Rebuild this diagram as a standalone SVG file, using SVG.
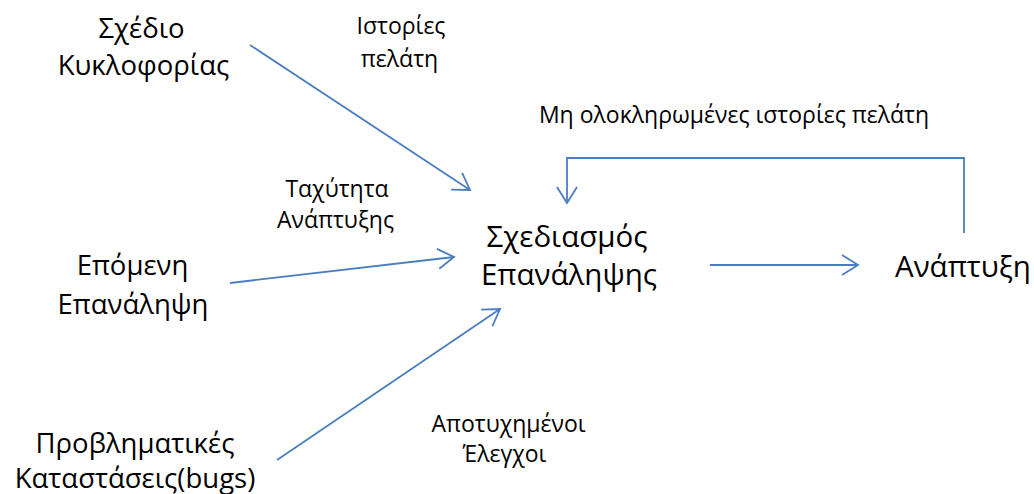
<svg xmlns="http://www.w3.org/2000/svg" width="1034" height="494" viewBox="0 0 1034 494">
<style>
text{font-family:"Open Sans","Noto Sans","DejaVu Sans",sans-serif;fill:#000;text-anchor:middle}
.n{font-size:27.5px}
.c{font-size:29.5px}
.l{font-size:23px}
.e{fill:none;stroke:#4A7EBF;stroke-width:1.8}
</style>
<defs>
<marker id="ah" markerUnits="userSpaceOnUse" markerWidth="30" markerHeight="30" viewBox="-20 -15 25 30" refX="0" refY="0" orient="auto">
<path d="M-16,-10 L0,0 L-16,10" fill="none" stroke="#4A7EBF" stroke-width="1.8"/>
</marker>
</defs>
<g id="connectors">
<line class="e" x1="250" y1="45" x2="470" y2="190" marker-end="url(#ah)"/>
<line class="e" x1="230" y1="283" x2="454" y2="257" marker-end="url(#ah)"/>
<line class="e" x1="277" y1="460" x2="500" y2="309" marker-end="url(#ah)"/>
<line class="e" x1="710" y1="265" x2="858" y2="265" marker-end="url(#ah)"/>
<polyline class="e" points="964,233 964,158 567,158 567,203" marker-end="url(#ah)"/>
</g>
<g id="labels">
<text class="l" x="401" y="34">Ιστορίες</text>
<text class="l" x="399.5" y="67">πελάτη</text>
<text class="l" x="337" y="197">Ταχύτητα</text>
<text class="l" x="335.5" y="228">Ανάπτυξης</text>
<text class="l" x="508.5" y="432">Αποτυχημένοι</text>
<text class="l" x="504.5" y="462">Έλεγχοι</text>
<text class="l" x="734" y="123">Μη ολοκληρωμένες ιστορίες πελάτη</text>
</g>
<g id="node-sxedio">
<text class="n" x="141.5" y="38">Σχέδιο</text>
<text class="n" x="143.5" y="75">Κυκλοφορίας</text>
</g>
<g id="node-epomeni">
<text class="n" x="132.5" y="275">Επόμενη</text>
<text class="n" x="133" y="314">Επανάληψη</text>
</g>
<g id="node-provlimatikes">
<text class="n" x="135" y="453">Προβληματικές</text>
<text class="n" x="135" y="488">Καταστάσεις(bugs)</text>
</g>
<g id="node-sxediasmos">
<text class="c" x="567" y="247">Σχεδιασμός</text>
<text class="c" x="569" y="285">Επανάληψης</text>
</g>
<g id="node-anaptyxi">
<text class="c" x="895" y="277" style="text-anchor:start">Ανάπτυξη</text>
</g>
</svg>
